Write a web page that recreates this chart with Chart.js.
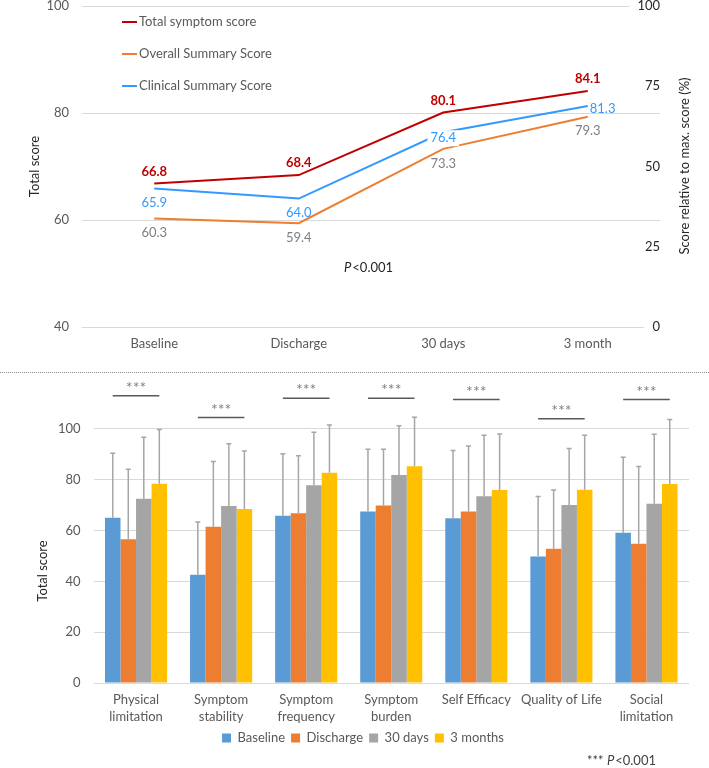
<!DOCTYPE html>
<html><head><meta charset="utf-8">
<script src="https://cdn.jsdelivr.net/npm/chart.js@4.4.1/dist/chart.umd.min.js"></script>
<style>
html,body{margin:0;padding:0;background:#fff;}
#wrap{position:relative;width:709px;height:768px;overflow:hidden;background:#fff;}
#topChart{position:absolute;left:0;top:0;}
#sep{position:absolute;left:0;top:372px;width:709px;height:0;border-top:1px dotted #8c8c8c;}
#bottomChart{position:absolute;left:0;top:373px;}
</style></head><body>
<div id="wrap">
<canvas id="topChart" width="709" height="370"></canvas>
<div id="sep"></div>
<canvas id="bottomChart" width="709" height="395"></canvas>
</div>
<script>
// ---------- data: top line chart ----------
const timepoints = ['Baseline', 'Discharge', '30 days', '3 month'];
const totalSymptom = [66.8, 68.4, 80.1, 84.1];
const overallSummary = [60.3, 59.4, 73.3, 79.3];
const clinicalSummary = [65.9, 64.0, 76.4, 81.3];
const lineSeriesNames = ['Total symptom score', 'Overall Summary Score', 'Clinical Summary Score'];
const topPText = '<0.001';

// ---------- data: bottom bar chart ----------
const domains = [['Physical', 'limitation'], ['Symptom', 'stability'], ['Symptom', 'frequency'], ['Symptom', 'burden'], 'Self Efficacy', 'Quality of Life', ['Social', 'limitation']];
const barSeriesNames = ['Baseline', 'Discharge', '30 days', '3 months'];
const baselineVals = [65.0, 42.6, 65.8, 67.5, 64.8, 49.8, 59.1];
const dischargeVals = [56.6, 61.5, 66.8, 69.8, 67.5, 52.8, 54.8];
const days30Vals = [72.5, 69.6, 77.8, 81.8, 73.5, 70.0, 70.5];
const months3Vals = [78.4, 68.5, 82.7, 85.3, 75.9, 76.0, 78.3];
const baselineSD = [25.4, 20.7, 24.4, 24.5, 26.7, 23.6, 29.7];
const dischargeSD = [27.5, 25.6, 22.6, 22.2, 25.7, 23.1, 30.4];
const days30SD = [24.2, 24.5, 20.9, 19.4, 24.0, 22.3, 27.4];
const months3SD = [21.3, 22.8, 18.8, 19.3, 22.1, 21.5, 25.4];
const sigLevels = [113, 104.5, 112, 112, 111.5, 104, 111.5];
const sigMarks = ['***', '***', '***', '***', '***', '***', '***'];

const FONT = 'Lato, "Open Sans", sans-serif';
const FS = 13;
const RED = '#C00000', ORANGE = '#ED7D31', BLUE = '#3399FF';
const TICK = '#595959', GRID = '#D9D9D9';
const BAR_COLORS = ['#5B9BD5', '#ED7D31', '#A5A5A5', '#FFC000'];

const zeroPad = s => { s.paddingTop = 0; s.paddingBottom = 0; s.paddingLeft = 0; s.paddingRight = 0; };

// ---------- top chart ----------
const topDecor = {
  id: 'topDecor',
  afterDatasetsDraw(chart) {
    const ctx = chart.ctx;
    const m = [0, 1, 2].map(i => chart.getDatasetMeta(i));
    ctx.save();
    ctx.textAlign = 'center'; ctx.textBaseline = 'middle';
    ctx.font = 'bold ' + FS + 'px ' + FONT; ctx.fillStyle = RED;
    m[0].data.forEach((p, i) => ctx.fillText(totalSymptom[i].toFixed(1), p.x, p.y - 12));
    ctx.font = FS + 'px ' + FONT; ctx.fillStyle = '#7F7F7F';
    m[1].data.forEach((p, i) => ctx.fillText(overallSummary[i].toFixed(1), p.x, p.y + 14.5));
    m[2].data.forEach((p, i) => {
      const txt = clinicalSummary[i].toFixed(1);
      ctx.fillStyle = BLUE;
      if (i === 2) {
        const w = ctx.measureText(txt).width;
        ctx.fillStyle = '#fff';
        ctx.fillRect(p.x - w / 2 - 3, p.y + 6 - 8, w + 6, 16);
        ctx.fillStyle = BLUE;
        ctx.fillText(txt, p.x, p.y + 6);
      } else if (i === 3) {
        ctx.textAlign = 'left';
        ctx.fillText(txt, p.x + 2, p.y + 3);
        ctx.textAlign = 'center';
      } else {
        ctx.fillText(txt, p.x, p.y + 14.5);
      }
    });
    // legend
    ctx.textAlign = 'left';
    chart.data.datasets.forEach((ds, i) => {
      const y = 22 + 32 * i;
      ctx.strokeStyle = ds.borderColor; ctx.lineWidth = 2;
      ctx.beginPath(); ctx.moveTo(122, y); ctx.lineTo(137, y); ctx.stroke();
      ctx.fillStyle = TICK; ctx.font = FS + 'px ' + FONT;
      ctx.fillText(ds.label, 139, y);
    });
    // P value
    ctx.fillStyle = '#262626';
    ctx.font = 'italic ' + FS + 'px ' + FONT;
    ctx.fillText('P', 344, 268);
    const pw = ctx.measureText('P').width;
    ctx.font = FS + 'px ' + FONT;
    ctx.fillText(topPText, 344 + pw + 1, 268);
    // right axis title
    ctx.translate(685, 166); ctx.rotate(-Math.PI / 2);
    ctx.textAlign = 'center'; ctx.fillStyle = '#262626';
    ctx.fillText('Score relative to max. score (%)', 0, 0);
    ctx.restore();
  }
};

new Chart(document.getElementById('topChart'), {
  type: 'line',
  data: {
    labels: timepoints,
    datasets: [
      { label: lineSeriesNames[0], data: totalSymptom, borderColor: RED, borderWidth: 2, pointRadius: 0, yAxisID: 'y', tension: 0 },
      { label: lineSeriesNames[1], data: overallSummary, borderColor: ORANGE, borderWidth: 2, pointRadius: 0, yAxisID: 'y', tension: 0 },
      { label: lineSeriesNames[2], data: clinicalSummary, borderColor: BLUE, borderWidth: 2, pointRadius: 0, yAxisID: 'y', tension: 0 }
    ]
  },
  options: {
    responsive: false, animation: false, devicePixelRatio: 1,
    layout: { padding: { top: 6, right: 0, left: 0, bottom: 0 }, autoPadding: false },
    plugins: { legend: { display: false }, tooltip: { enabled: false } },
    scales: {
      x: {
        offset: true,
        grid: { display: false, drawTicks: false }, border: { display: false },
        ticks: { font: { family: FONT, size: FS }, color: TICK, padding: 9 },
        afterFit: s => { s.height = 43; zeroPad(s); }
      },
      y: {
        position: 'left', min: 40, max: 100,
        ticks: { stepSize: 20, font: { family: FONT, size: FS, lineHeight: 1 }, color: TICK, padding: 13 },
        grid: { color: GRID, lineWidth: 1, drawTicks: false }, border: { display: false },
        title: { display: true, text: 'Total score', font: { family: FONT, size: FS }, color: '#262626', padding: { top: 27, bottom: 0 } },
        afterFit: s => { s.width = 82; zeroPad(s); }
      },
      y2: {
        position: 'right', min: 0, max: 100,
        ticks: {
          stepSize: 25, mirror: true, font: { family: FONT, size: FS, lineHeight: 1 }, color: '#262626', padding: 0,
          showLabelBackdrop: true, backdropColor: '#ffffff', backdropPadding: { left: 8, right: 0, top: 2, bottom: 2 }
        },
        grid: { display: false, drawTicks: false }, border: { display: false },
        afterFit: s => { s.width = 49; zeroPad(s); }
      }
    }
  },
  plugins: [topDecor]
});

// ---------- bottom chart ----------
const sdSets = [baselineSD, dischargeSD, days30SD, months3SD];
const bottomDecor = {
  id: 'bottomDecor',
  afterDatasetsDraw(chart) {
    const ctx = chart.ctx;
    const ys = chart.scales.y;
    ctx.save();
    // error bars
    ctx.strokeStyle = '#A6A6A6'; ctx.lineWidth = 1.5;
    chart.data.datasets.forEach((ds, di) => {
      const meta = chart.getDatasetMeta(di);
      meta.data.forEach((bar, i) => {
        const top = ys.getPixelForValue(ds.data[i] + sdSets[di][i]);
        ctx.beginPath();
        ctx.moveTo(bar.x, bar.y); ctx.lineTo(bar.x, top);
        ctx.moveTo(bar.x - 2.5, top); ctx.lineTo(bar.x + 2.5, top);
        ctx.stroke();
      });
    });
    // significance lines
    const m0 = chart.getDatasetMeta(0), m3 = chart.getDatasetMeta(3);
    sigLevels.forEach((lv, i) => {
      const y = ys.getPixelForValue(lv);
      const x0 = m0.data[i].x, x1 = m3.data[i].x;
      ctx.strokeStyle = '#595959'; ctx.lineWidth = 1.5;
      ctx.beginPath(); ctx.moveTo(x0, y); ctx.lineTo(x1, y); ctx.stroke();
      ctx.fillStyle = '#7F7F7F'; ctx.font = '16px ' + FONT;
      ctx.textAlign = 'center'; ctx.textBaseline = 'middle';
      ctx.fillText(sigMarks[i], (x0 + x1) / 2, y - 8);
    });
    // y title
    ctx.save();
    ctx.translate(43, 571 - 373); ctx.rotate(-Math.PI / 2);
    ctx.fillStyle = '#262626'; ctx.font = FS + 'px ' + FONT; ctx.textAlign = 'center'; ctx.textBaseline = 'middle';
    ctx.fillText('Total score', 0, 0);
    ctx.restore();
    // footnote
    ctx.fillStyle = '#404040'; ctx.textAlign = 'left'; ctx.textBaseline = 'middle';
    ctx.font = FS + 'px ' + FONT;
    let x = 587; const y = 761 - 373;
    ctx.fillText('*** ', x, y); x += ctx.measureText('*** ').width;
    ctx.font = 'italic ' + FS + 'px ' + FONT; ctx.fillText('P', x, y); x += ctx.measureText('P').width + 1;
    ctx.font = FS + 'px ' + FONT; ctx.fillText('<0.001', x, y);
    ctx.restore();
  }
};

new Chart(document.getElementById('bottomChart'), {
  type: 'bar',
  data: {
    labels: domains,
    datasets: [
      { label: barSeriesNames[0], data: baselineVals, backgroundColor: BAR_COLORS[0] },
      { label: barSeriesNames[1], data: dischargeVals, backgroundColor: BAR_COLORS[1] },
      { label: barSeriesNames[2], data: days30Vals, backgroundColor: BAR_COLORS[2] },
      { label: barSeriesNames[3], data: months3Vals, backgroundColor: BAR_COLORS[3] }
    ]
  },
  options: {
    responsive: false, animation: false, devicePixelRatio: 1,
    datasets: { bar: { categoryPercentage: 0.73, barPercentage: 1.0, borderWidth: 0 } },
    layout: { padding: { top: 5, right: 20, left: 37, bottom: 13.5 }, autoPadding: false },
    plugins: {
      tooltip: { enabled: false },
      legend: {
        position: 'bottom',
        labels: { boxWidth: 9, boxHeight: 9, padding: 6, font: { family: FONT, size: FS }, color: TICK }
      }
    },
    scales: {
      x: {
        grid: { display: false, drawTicks: false }, border: { display: false },
        ticks: { font: { family: FONT, size: FS, lineHeight: 1.25 }, color: TICK, padding: 9, maxRotation: 0, autoSkip: false },
        afterFit: s => { s.height = 42.5; zeroPad(s); }
      },
      y: {
        min: 0, max: 120,
        afterBuildTicks: axis => { axis.ticks = axis.ticks.filter(t => t.value <= 100); },
        ticks: { stepSize: 20, font: { family: FONT, size: FS }, color: TICK, padding: 13 },
        grid: { color: GRID, drawTicks: false }, border: { display: false },
        afterFit: s => { s.width = 56.5; zeroPad(s); }
      }
    }
  },
  plugins: [bottomDecor]
});
</script>
</body></html>
